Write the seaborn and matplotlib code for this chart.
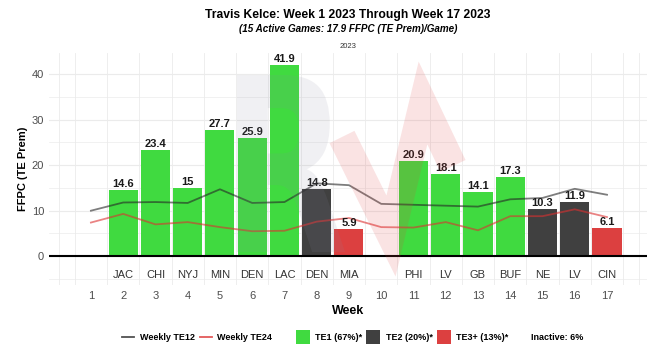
import matplotlib
matplotlib.use("Agg")
import matplotlib.pyplot as plt
import seaborn as sns
import numpy as np
import pandas as pd
from matplotlib.textpath import TextPath
from matplotlib.font_manager import FontProperties
from matplotlib.patches import PathPatch, Rectangle
from matplotlib.lines import Line2D
from matplotlib.transforms import Affine2D, IdentityTransform

# ---- data ----
weeks = list(range(1, 18))
opponents = ["", "JAC", "CHI", "NYJ", "MIN", "DEN", "LAC", "DEN", "MIA", "",
             "PHI", "LV", "GB", "BUF", "NE", "LV", "CIN"]
ffpc = [None, 14.6, 23.4, 15.0, 27.7, 25.9, 41.9, 14.8, 5.9, None,
        20.9, 18.1, 14.1, 17.3, 10.3, 11.9, 6.1]
tiers = [None, "TE1", "TE1", "TE1", "TE1", "TE1", "TE1", "TE2", "TE3+", None,
         "TE1", "TE1", "TE1", "TE1", "TE2", "TE2", "TE3+"]
te12 = [10.0, 11.8, 11.9, 11.7, 14.7, 11.7, 11.9, 16.0, 15.6, 11.5,
        11.3, 11.1, 10.9, 12.5, 12.8, 14.8, 13.5]
te24 = [7.4, 9.3, 7.0, 7.5, 6.4, 5.5, 5.6, 7.6, 8.4, 6.4,
        6.3, 7.5, 5.7, 8.8, 8.8, 10.3, 8.6]
tier_labels = ["TE1 (67%)*", "TE2 (20%)*", "TE3+ (13%)*"]
inactive_label = "Inactive: 6%"
title = "Travis Kelce: Week 1 2023 Through Week 17 2023"
subtitle = "(15 Active Games: 17.9 FFPC (TE Prem)/Game)"
facet = "2023"

colors = {"TE1": "#40DA40", "TE2": "#404040", "TE3+": "#DC4040"}

plt.rcParams["font.family"] = ["Liberation Sans", "DejaVu Sans"]

W, H = 649, 349
fig = plt.figure(figsize=(W / 100, H / 100), dpi=100)
fig.patch.set_facecolor("white")

def fx(px):
    return px / W

def fy(py):
    return 1 - py / H

ax = fig.add_axes([fx(49), fy(285), (647 - 49) / W, (285 - 53) / H])
ax.set_facecolor("white")
ax.set_xlim(-0.30, 18.24)
ax.set_ylim(-6.3, 44.6)

# grid
for yv in np.arange(-5, 45, 5):
    ax.axhline(yv, color="#ebebeb", lw=0.8 if yv % 10 == 0 else 0.5, zorder=0)
for xv in [0] + [k + 0.5 for k in range(0, 18)] + [18]:
    ax.axvline(xv, color="#ebebeb", lw=0.6, zorder=0)

df = pd.DataFrame({"week": weeks, "opp": opponents, "ffpc": ffpc,
                   "tier": tiers, "te12": te12, "te24": te24})
bars = df.dropna(subset=["ffpc"])

sns.barplot(data=bars, x="week", y="ffpc", hue="tier", palette=colors,
            native_scale=True, width=0.9, dodge=False, linewidth=0,
            saturation=1, legend=False, ax=ax, zorder=2)

sns.lineplot(data=df, x="week", y="te12", color="#262626", alpha=0.6,
             lw=1.3, ax=ax, zorder=3)
sns.lineplot(data=df, x="week", y="te24", color="#DC3030", alpha=0.6,
             lw=1.3, ax=ax, zorder=3)

ax.axhline(0, color="black", lw=1.5, zorder=4)

for _, r in bars.iterrows():
    lab = f"{r.ffpc:g}"
    ax.annotate(lab, (r.week, r.ffpc), xytext=(0, 0.8), textcoords="offset points",
                ha="center", va="bottom", fontsize=8, fontweight="bold",
                color="#1a1a1a", zorder=5)
for w, o in zip(weeks, opponents):
    if o:
        ax.text(w, -4.1, o, ha="center", va="center", fontsize=8,
                color="#333333", zorder=5)

ax.set_xticks(weeks)
ax.set_xticklabels([str(w) for w in weeks])
ax.set_yticks([0, 10, 20, 30, 40])
ax.tick_params(axis="both", length=0, labelsize=8, labelcolor="#4d4d4d")
ax.tick_params(axis="x", pad=4.5)
ax.tick_params(axis="y", pad=3.5)
for s in ax.spines.values():
    s.set_visible(False)
ax.set_xlabel("Week", fontsize=9, fontweight="bold", labelpad=3)
ax.set_ylabel("FFPC (TE Prem)", fontsize=8, fontweight="bold", labelpad=2.5)

# ---- watermark ----
tp = TextPath((0, 0), "R", size=100, prop=FontProperties(family="DejaVu Sans", weight="bold"))
ext = tp.get_extents()
x0, y0, x1, y1 = 237, 75, 345, 252
sx = (x1 - x0) / ext.width
sy = (y1 - y0) / ext.height
tr = Affine2D().translate(-ext.x0, -ext.y0).scale(sx, sy).translate(x0, H - y1)
rp = PathPatch(tr.transform_path(tp), facecolor="#8a8aa0", edgecolor="none",
               alpha=0.12, transform=IdentityTransform(), zorder=6)
fig.add_artist(rp)

zx = [342, 391, 423, 453]
zy = [137, 236, 103, 166]
zl = Line2D([px for px in zx], [H - py for py in zy], color="#E04545", alpha=0.15,
            lw=20, solid_joinstyle="miter", solid_capstyle="butt",
            transform=IdentityTransform(), zorder=6)
fig.add_artist(zl)

# ---- titles ----
cx = fx(348)
fig.text(cx, fy(15), title, ha="center", va="center", fontsize=8.7,
         fontweight="bold", color="black")
fig.text(cx, fy(29), subtitle, ha="center", va="center", fontsize=7.1,
         fontweight="bold", fontstyle="italic", color="black")
fig.text(cx, fy(46), facet, ha="center", va="center", fontsize=5.5, color="#333333")

# ---- legend ----
ly = fy(337)
fig.add_artist(Line2D([fx(122), fx(134)], [ly, ly], color="#262626", alpha=0.8, lw=1.3))
fig.text(fx(140), ly, "Weekly TE12", ha="left", va="center", fontsize=6.5, fontweight="bold")
fig.add_artist(Line2D([fx(200), fx(212)], [ly, ly], color="#DC3030", alpha=0.8, lw=1.3))
fig.text(fx(217), ly, "Weekly TE24", ha="left", va="center", fontsize=6.5, fontweight="bold")
sq_x = [296, 366, 437]
tx_x = [315, 386, 456]
for key, lab, sx0, tx0 in zip(["TE1", "TE2", "TE3+"], tier_labels, sq_x, tx_x):
    fig.add_artist(Rectangle((fx(sx0), fy(344)), 14 / W, 14 / H,
                             facecolor=colors[key], edgecolor="none",
                             transform=fig.transFigure))
    fig.text(fx(tx0), ly, lab, ha="left", va="center", fontsize=6.5, fontweight="bold")
fig.text(fx(531), ly, inactive_label, ha="left", va="center", fontsize=6.5, fontweight="bold")

fig.savefig("out.png", dpi=100, facecolor="white")
